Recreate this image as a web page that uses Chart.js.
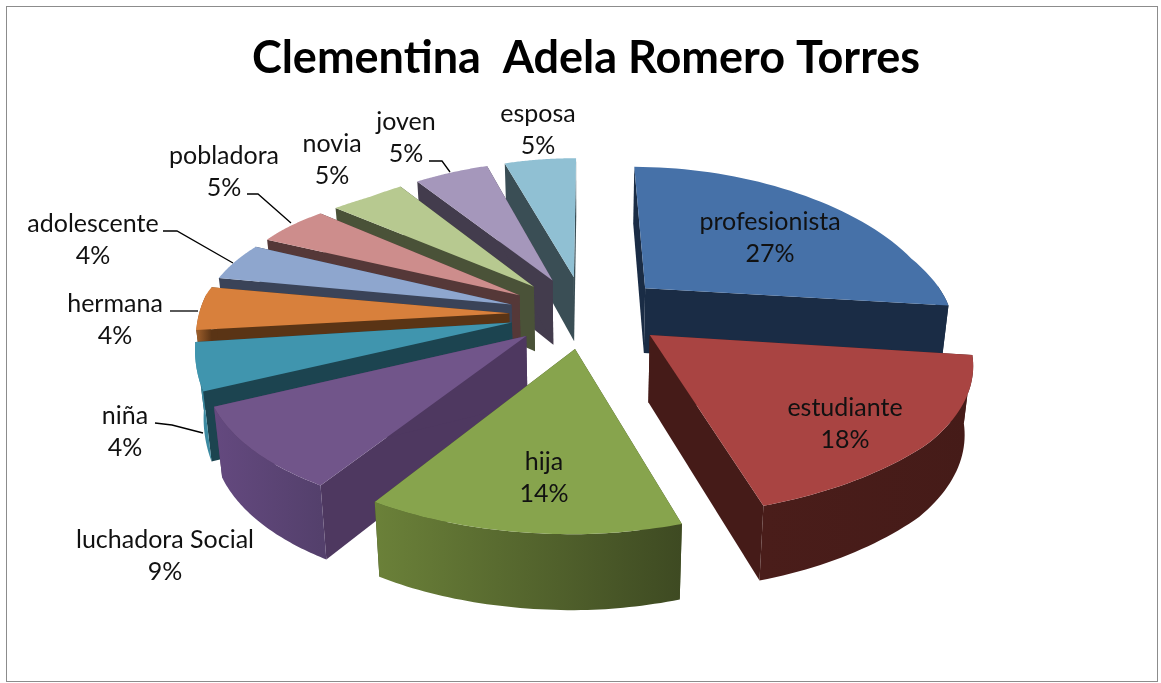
<!DOCTYPE html>
<html>
<head>
<meta charset="utf-8">
<style>
html, body { margin: 0; padding: 0; background: #fff; }
#wrap { width: 1161px; height: 683px; }
</style>
<script src="https://cdn.jsdelivr.net/npm/chart.js@4"></script>
</head>
<body>
<div id="wrap"><canvas id="myChart" width="1161" height="683"></canvas></div>
<script>
"use strict"

// DATA
const titleText = 'Clementina  Adela Romero Torres';
const categories = ['profesionista', 'estudiante', 'hija', 'luchadora Social', 'niña', 'hermana', 'adolescente', 'pobladora', 'novia', 'joven', 'esposa'];
const percents = [27, 18, 14, 9, 4, 4, 4, 5, 5, 5, 5];

// COLOURS: top face, cut side, rim gradient start and end
const topColors = ['#4671a8', '#a94442', '#87a44d', '#71558a', '#4095ae', '#d8803c', '#8ea6ce', '#cd8d8c', '#b7c990', '#a597bb', '#90c0d3'];
const sideColors = ['#1a2c45', '#451b18', '#3e4a22', '#4e3860', '#1c4450', '#5a3415', '#3a4358', '#553838', '#4a5238', '#433c4d', '#3a4e55'];
const rimFrom = ['#1a2c45', '#4a1d1a', '#6b8139', '#64497f', '#4095ae', '#a0602c', '#6a7c99', '#98686a', '#87956a', '#7a6f8b', '#6a8e9c'];
const rimTo = ['#1a2c45', '#451b18', '#3e4a22', '#54406c', '#3c8aa1', '#5a3415', '#3a4358', '#553838', '#4a5238', '#433c4d', '#3a4e55'];

// LABEL LAYOUT (centre x, y of first line)
const labelSpots = [[770, 222], [845, 408], [544, 462], [165, 540], [125, 416], [115, 304], [93, 224], [224, 156], [332, 144], [406, 122], [538, 114]];
const leaderLines = [
    [[155, 423], [172, 425], [203, 433]],
    [[170, 311], [198, 311]],
    [[163, 231], [177, 231], [233, 263]],
    [[247, 194], [258, 194], [291, 223]],
    [[429, 161], [442, 161], [450, 172]]
];

// 3D VIEW
const explode = 0.25;
const viewX = 585, viewY = 311;

// plane position (unit radius, y toward the viewer) to screen, z is 0 on top and 1 at the bottom
function project(px, py, z) {
    let width = py >= 0 ? 303 + 62 * py : py > -0.4 ? 303 + 78 * py : 272 + 52 * (py + 0.4);
    if (px > 0) width += 4 - 40 * Math.max(0, py - 0.8);
    let sx = viewX + px * width;
    if (px > 0) sx += Math.min(px / 0.15, 1) * (5 - 8 * Math.max(py, 0));
    let sy = viewY + (py < 0 ? 140 * py + 14 * py * py : 147 * py + 25.5 * py * py);
    // the far left of the pie sits a bit higher than the plain tilt gives
    const bump = Math.max(0, 1 - Math.pow((py + 0.2) / 0.7, 2));
    sy -= 17 * Math.max(0, -px - 0.5) / 0.7 * bump;
    const depth = 66 + 8 * py;
    sx -= (sx - viewX) * 0.022 * z;
    sy += depth * z;
    return [sx, sy];
}

function tracePath(ctx, pts) {
    ctx.beginPath();
    pts.forEach((p, i) => i ? ctx.lineTo(p[0], p[1]) : ctx.moveTo(p[0], p[1]));
    ctx.closePath();
}

function drawSlice(ctx, arc, i) {
    const { startAngle, endAngle } = arc.getProps(['startAngle', 'endAngle'], true);
    const mid = (startAngle + endAngle) / 2;
    const ox = explode * Math.cos(mid), oy = explode * Math.sin(mid);
    const rimTop = [], rimBottom = [], wallTop = [], wallBottom = [];
    const steps = 48;
    for (let s = 0; s <= steps; s++) {
        const a = startAngle + (endAngle - startAngle) * s / steps;
        const t = project(ox + Math.cos(a), oy + Math.sin(a), 0);
        const b = project(ox + Math.cos(a), oy + Math.sin(a), 1);
        rimTop.push(t);
        rimBottom.push(b);
        // only the part of the rim that faces the viewer
        if (Math.sin(a) > -0.02) {
            wallTop.push(t);
            wallBottom.push(b);
        }
    }
    const apexTop = project(ox, oy, 0), apexBottom = project(ox, oy, 1);

    // cut sides
    ctx.fillStyle = sideColors[i];
    tracePath(ctx, [apexTop, rimTop[0], rimBottom[0], apexBottom]);
    ctx.fill();
    tracePath(ctx, [apexTop, rimTop[steps], rimBottom[steps], apexBottom]);
    ctx.fill();

    // rim wall
    if (wallTop.length > 1) {
        const xs = rimTop.map(p => p[0]);
        const grad = ctx.createLinearGradient(Math.min(...xs), 0, Math.max(...xs), 0);
        grad.addColorStop(0, rimFrom[i]);
        grad.addColorStop(1, rimTo[i]);
        ctx.fillStyle = grad;
        tracePath(ctx, wallTop.concat(wallBottom.slice().reverse()));
        ctx.fill();
    }

    // top face
    ctx.fillStyle = topColors[i];
    tracePath(ctx, [apexTop].concat(rimTop));
    ctx.fill();
}

// DRAW THE PIE IN 3D FROM THE ARC ELEMENTS
const pie3d = {
    id: 'pie3d',
    beforeDraw(chart) {
        const ctx = chart.ctx;
        ctx.save();
        ctx.fillStyle = '#fff';
        ctx.fillRect(0, 0, chart.width, chart.height);
        ctx.strokeStyle = '#8c8c8c';
        ctx.lineWidth = 1;
        ctx.strokeRect(6.5, 6.5, 1151, 675);
        ctx.restore();
    },
    beforeDatasetsDraw(chart) {
        const ctx = chart.ctx;
        const arcs = chart.getDatasetMeta(0).data;
        const order = arcs.map((arc, i) => i).sort((a, b) => {
            const midA = (arcs[a].startAngle + arcs[a].endAngle) / 2;
            const midB = (arcs[b].startAngle + arcs[b].endAngle) / 2;
            return Math.sin(midA) - Math.sin(midB);
        });
        ctx.save();
        order.forEach(i => drawSlice(ctx, arcs[i], i));

        // leader lines
        ctx.strokeStyle = '#000';
        ctx.lineWidth = 1.3;
        leaderLines.forEach(line => {
            ctx.beginPath();
            line.forEach((p, k) => k ? ctx.lineTo(p[0], p[1]) : ctx.moveTo(p[0], p[1]));
            ctx.stroke();
        });

        // labels
        ctx.fillStyle = '#111';
        ctx.font = '25px Lato';
        ctx.textAlign = 'center';
        ctx.textBaseline = 'middle';
        categories.forEach((name, i) => {
            ctx.fillText(name, labelSpots[i][0], labelSpots[i][1]);
            ctx.fillText(percents[i] + '%', labelSpots[i][0], labelSpots[i][1] + 32);
        });
        ctx.restore();
        return false;
    }
};

// CONFIG OF THE CHART
const config = {
    type: 'pie',
    data: {
        labels: categories,
        datasets: [{
            data: percents,
            backgroundColor: topColors,
            borderWidth: 0
        }]
    },
    options: {
        responsive: false,
        animation: false,
        layout: { padding: { left: 11 } },
        plugins: {
            legend: { display: false },
            tooltip: { enabled: false },
            title: {
                display: true,
                text: titleText,
                color: '#000',
                font: { family: 'Lato', size: 45, weight: 'bold' },
                padding: { top: 31, bottom: 10 }
            }
        }
    },
    plugins: [pie3d]
};

const myChart = new Chart(document.getElementById('myChart'), config);
</script>
</body>
</html>
